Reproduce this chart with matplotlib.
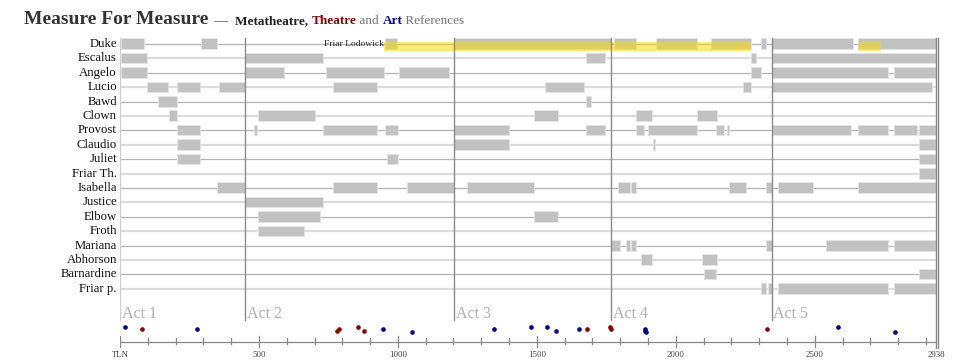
import matplotlib
matplotlib.use("Agg")
import matplotlib.pyplot as plt
from matplotlib.patches import Rectangle

# ---------------- data ----------------
characters = ["Duke", "Escalus", "Angelo", "Lucio", "Bawd", "Clown", "Provost",
              "Claudio", "Juliet", "Friar Th.", "Isabella", "Justice", "Elbow",
              "Froth", "Mariana", "Abhorson", "Barnardine", "Friar p."]

duke = [(2, 86), (290, 348), (954, 998), (1203, 1767), (1776, 1857), (1929, 2076),
        (2126, 2271), (2307, 2323), (2345, 2638), (2657, 2936)]
escalus = [(2, 97), (450, 732), (1677, 1746), (2271, 2290), (2345, 2936)]
angelo = [(2, 97), (450, 590), (740, 951), (1003, 1185), (2271, 2306), (2345, 2762), (2785, 2936)]
lucio = [(97, 171), (206, 288), (355, 450), (766, 925), (1529, 1671), (2240, 2271), (2345, 2923)]
bawd = [(137, 206), (1677, 1694)]
clown = [(176, 206), (497, 702), (1490, 1575), (1856, 1913), (2076, 2147)]
provost = [(206, 288), (483, 492), (732, 925), (954, 1001), (1203, 1401), (1677, 1746),
           (1856, 1884), (1901, 2076), (2143, 2175), (2184, 2190), (2345, 2630),
           (2657, 2762), (2785, 2867), (2875, 2936)]
claudio = [(206, 288), (1203, 1401), (1917, 1926), (2875, 2936)]
juliet = [(206, 288), (962, 1001), (2875, 2936)]
friar_th = [(2875, 2936)]
isabella = [(349, 450), (766, 925), (1034, 1203), (1249, 1490), (1791, 1835), (1839, 1856),
            (2192, 2252), (2323, 2345), (2367, 2495), (2657, 2936)]
justice = [(450, 732)]
elbow = [(497, 720), (1490, 1575)]
froth = [(497, 661)]
mariana = [(1768, 1798), (1821, 1836), (1839, 1856), (2323, 2345), (2539, 2762), (2785, 2936)]
abhorson = [(1874, 1914), (2095, 2147)]
barnardine = [(2101, 2145), (2875, 2936)]
friar_p = [(2307, 2323), (2333, 2345), (2367, 2762), (2785, 2936)]

segments = [duke, escalus, angelo, lucio, bawd, clown, provost, claudio, juliet, friar_th,
            isabella, justice, elbow, froth, mariana, abhorson, barnardine, friar_p]

disguise_label = "Friar Lodowick"
disguise_spans = [(950, 2271), (2657, 2738)]

act_labels = ["Act 1", "Act 2", "Act 3", "Act 4", "Act 5"]
act_starts = [0, 450, 1203, 1768, 2345]
total_tln = 2938

theatre_tln = [78, 782, 789, 858, 879, 1682, 1764, 1768, 2327]
theatre_lvl = [1, 2, 1, 0, 2, 1, 0, 1, 1]
art_tln = [17, 277, 948, 1049, 1347, 1480, 1535, 1569, 1650, 1889, 1890, 1892, 2585, 2789]
art_lvl = [0, 1, 1, 3, 1, 0, 0, 2, 1, 1, 2, 3, 0, 3]

tick_values = [0, 500, 1000, 1500, 2000, 2500, 2938]
tick_labels = ["TLN", "500", "1000", "1500", "2000", "2500", "2938"]

# ---------------- layout ----------------
W, H = 960, 361
fig = plt.figure(figsize=(W / 100, H / 100), dpi=100)
x0_px, x1_px = 120, 936.5
ax = fig.add_axes([x0_px / W, 0, (x1_px - x0_px) / W, 1])
ax.set_xlim(0, total_tln)
ax.set_ylim(H, 0)
ax.axis("off")

serif = ["Liberation Serif", "DejaVu Serif"]
row_y0, row_dy = 44, 14.4
bar_h = 10.5
dot_levels = [326.7, 329.0, 330.5, 331.7]

# row lines + labels
for i, name in enumerate(characters):
    y = row_y0 + i * row_dy
    if i % 2 == 0:
        ax.plot([0, total_tln], [y, y], color="#b4b4b4", lw=0.9, zorder=1, solid_capstyle="butt")
    else:
        ax.plot([0, total_tln], [y, y], color="#dcdcdc", lw=1.6, zorder=1, solid_capstyle="butt")
    ax.text(-11, y, name, ha="right", va="center", fontsize=9.2, family=serif,
            color="#111111", clip_on=False)

# bars
for i, segs in enumerate(segments):
    y = row_y0 + i * row_dy
    for s, e in segs:
        ax.add_patch(Rectangle((s, y - bar_h / 2 - 0.3), e - s, bar_h, facecolor="#c2c2c2",
                               edgecolor="#e4e4e4", lw=0.6, zorder=2))

# disguise highlight
for s, e in disguise_spans:
    ax.add_patch(Rectangle((s, row_y0 - 2.3), e - s, 9, facecolor="#ffd700", alpha=0.5,
                           edgecolor="none", zorder=3))
ax.text(disguise_spans[0][0], row_y0 + 0.5, disguise_label, ha="right", va="center",
        fontsize=6.8, family=serif, color="#222222", zorder=4)

# act lines and labels
top_y, act_bottom = 37.5, 320
for a, (lab, s) in enumerate(zip(act_labels, act_starts)):
    col = "#cfcfcf" if a == 0 else "#8a8a8a"
    ax.plot([s, s], [top_y, act_bottom], color=col, lw=1.0, zorder=4)
    ax.text(s + 6, 318.5, lab, ha="left", va="baseline", fontsize=11.5, family=serif,
            color="#b0b0b0")
ax.plot([total_tln, total_tln], [top_y, 348], color="#8a8a8a", lw=1.0, clip_on=False)
ax.plot([total_tln + 7, total_tln + 7], [top_y, 348], color="#8a8a8a", lw=1.0, clip_on=False)

# reference dots
ax.scatter(theatre_tln, [dot_levels[k] for k in theatre_lvl], s=11, color="#8b0000",
           zorder=5, linewidths=0)
ax.scatter(art_tln, [dot_levels[k] for k in art_lvl], s=11, color="#00008b",
           zorder=5, linewidths=0)

# x axis
axis_y = 341.7
ax.plot([0, total_tln], [axis_y, axis_y], color="#888888", lw=0.9)
for t in range(0, total_tln + 1, 100):
    major = t % 500 == 0
    ax.plot([t, t], [axis_y - (6 if major else 3.5), axis_y + (5 if major else 2.5)],
            color="#888888", lw=0.9)
for v, lab in zip(tick_values, tick_labels):
    ax.text(v, 355, lab, ha="center", va="center", fontsize=6.3, family=serif,
            color="#444444", clip_on=False)

# title
renderer = fig.canvas.get_renderer()
def run_text(x_px, y_px, parts):
    x = x_px
    for txt, size, weight, color in parts:
        t = fig.text(x / W, 1 - y_px / H, txt, fontsize=size, fontweight=weight, color=color,
                     family=serif, ha="left", va="baseline")
        bb = t.get_window_extent(renderer=renderer)
        x = bb.x1
    return x

run_text(24, 24, [
    ("Measure For Measure", 14, "bold", "#333333"),
    ("  \u2014  ", 9.5, "normal", "#333333"),
    ("Metatheatre, ", 9.5, "bold", "#222222"),
    ("Theatre", 9.5, "bold", "#8b0000"),
    (" and ", 9.5, "normal", "#777777"),
    ("Art", 9.5, "bold", "#00008b"),
    (" References", 9.5, "normal", "#777777"),
])

fig.savefig("out.png", dpi=100)
